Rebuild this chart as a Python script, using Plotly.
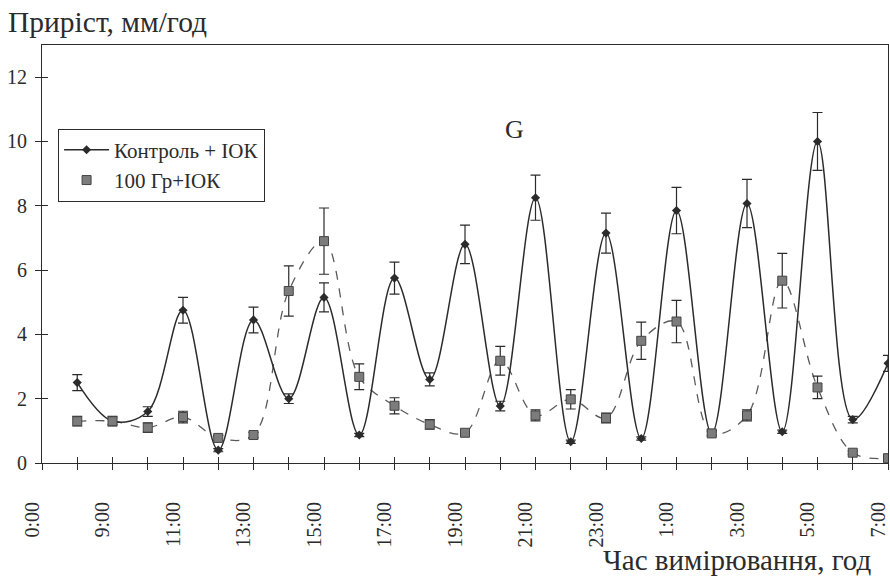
import plotly.graph_objects as go

# Measurement times: hours counted from midnight of the first day (8:00 .. 7:00 next day)
hours = list(range(8, 32))

# Growth rate, mm/h
control_vals = [2.5, 1.3, 1.6, 4.75, 0.4, 4.45, 2.0, 5.15, 0.87, 5.75, 2.6, 6.8,
                1.77, 8.25, 0.66, 7.15, 0.76, 7.85, 0.92, 8.07, 0.97, 10.0, 1.35, 3.1]
control_err = [0.25, 0.1, 0.15, 0.4, 0.05, 0.4, 0.15, 0.45, 0.05, 0.5, 0.2, 0.6,
               0.15, 0.7, 0.05, 0.62, 0.05, 0.72, 0.05, 0.75, 0.05, 0.9, 0.1, 0.25]

dose_vals = [1.3, 1.3, 1.1, 1.43, 0.78, 0.87, 5.35, 6.9, 2.68, 1.78, 1.2, 0.94,
             3.18, 1.48, 1.98, 1.4, 3.8, 4.4, 0.92, 1.48, 5.67, 2.35, 0.32, 0.15]
dose_err = [0.15, 0.15, 0.15, 0.18, 0.08, 0.08, 0.78, 1.03, 0.4, 0.25, 0.15, 0.08,
            0.45, 0.17, 0.3, 0.15, 0.58, 0.66, 0.08, 0.17, 0.85, 0.35, 0.05, 0.05]

# Axis labels
tick_hours = [7, 9, 11, 13, 15, 17, 19, 21, 23, 25, 27, 29, 31]
tick_labels = ["0:00", "9:00", "11:00", "13:00", "15:00", "17:00", "19:00",
               "21:00", "23:00", "1:00", "3:00", "5:00", "7:00"]
y_ticks = [0, 2, 4, 6, 8, 10, 12]

SERIF = "Liberation Serif, Times New Roman, serif"
INK = "#2b2b2b"

all_ticks = list(range(7, 32))
label_map = dict(zip(tick_hours, tick_labels))
all_text = [label_map.get(h, "") for h in all_ticks]

fig = go.Figure()

# 100 Gy + IOK: dashed smoothed curve
fig.add_trace(go.Scatter(
    x=hours, y=dose_vals, mode="lines",
    line=dict(color="#5a5a5a", width=1.3, dash="dash", shape="spline", smoothing=1.0),
    showlegend=False, hoverinfo="skip",
))

# Control + IOK: solid smoothed curve with diamonds
fig.add_trace(go.Scatter(
    x=hours, y=control_vals, mode="lines+markers", name="Контроль + ІОК",
    line=dict(color=INK, width=1.5, shape="spline", smoothing=1.0),
    marker=dict(symbol="diamond", size=7, color=INK),
    error_y=dict(type="data", array=control_err, visible=True,
                 color=INK, thickness=1.2, width=5),
))

# 100 Gy + IOK: square markers with error bars
fig.add_trace(go.Scatter(
    x=hours, y=dose_vals, mode="markers", name="100 Гр+ІОК",
    marker=dict(symbol="square", size=9, color="#7c7c7c",
                line=dict(color="#444444", width=1)),
    error_y=dict(type="data", array=dose_err, visible=True,
                 color=INK, thickness=1.2, width=5),
))

# Empty trace on the overlay axes so their crossing ticks are drawn
fig.add_trace(go.Scatter(x=[], y=[], xaxis="x2", yaxis="y2", showlegend=False))

fig.update_layout(
    width=890, height=578,
    margin=dict(l=42, r=2, t=45, b=115),
    paper_bgcolor="white", plot_bgcolor="white",
    font=dict(family=SERIF, color=INK),
    xaxis=dict(
        range=[7, 31], tickmode="array", tickvals=all_ticks, ticktext=all_text,
        tickangle=-90, ticks="outside", ticklen=6, tickwidth=1, tickcolor=INK,
        tickfont=dict(family=SERIF, size=20, color=INK),
        ticklabelstandoff=24, ticklabelshift=-10, ticklabeloverflow="allow",
        automargin=False,
        showgrid=False, zeroline=False, showline=True, linecolor=INK,
        linewidth=1, mirror=True,
    ),
    yaxis=dict(
        range=[0, 13], tickmode="array", tickvals=y_ticks,
        ticks="outside", ticklen=6, tickwidth=1, tickcolor=INK,
        tickfont=dict(family=SERIF, size=20, color=INK),
        ticklabelstandoff=4, automargin=False,
        showgrid=False, zeroline=False, showline=True, linecolor=INK,
        linewidth=1, mirror=True,
    ),
    xaxis2=dict(
        overlaying="x", range=[7, 31], tickmode="array", tickvals=all_ticks,
        ticks="inside", ticklen=6, tickwidth=1, tickcolor=INK,
        showticklabels=False, showgrid=False, zeroline=False, showline=False,
        side="bottom",
    ),
    yaxis2=dict(
        overlaying="y", range=[0, 13], tickmode="array", tickvals=y_ticks,
        ticks="inside", ticklen=6, tickwidth=1, tickcolor=INK,
        showticklabels=False, showgrid=False, zeroline=False, showline=False,
        side="left",
    ),
    legend=dict(
        x=0.019, y=0.80, xanchor="left", yanchor="top",
        bgcolor="white", bordercolor=INK, borderwidth=1,
        font=dict(family=SERIF, size=21, color=INK),
        tracegroupgap=0, itemwidth=45,
    ),
    annotations=[
        dict(text="Приріст, мм/год", xref="paper", yref="paper",
             x=-0.042, y=1.055, xanchor="left", yanchor="middle",
             showarrow=False, font=dict(family=SERIF, size=29.5, color=INK)),
        dict(text="Час вимірювання, год", xref="paper", yref="paper",
             x=0.983, y=-0.232, xanchor="right", yanchor="middle",
             showarrow=False, font=dict(family=SERIF, size=29, color=INK)),
        dict(text="G", xref="paper", yref="paper",
             x=0.559, y=0.797, xanchor="center", yanchor="middle",
             showarrow=False, font=dict(family=SERIF, size=26, color=INK)),
    ],
)

fig.write_html("out.html")
